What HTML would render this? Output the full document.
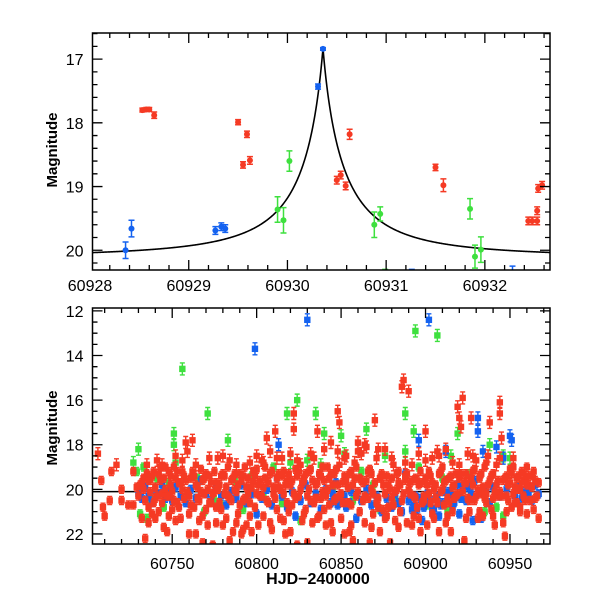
<!DOCTYPE html>
<html><head><meta charset="utf-8"><style>
body{margin:0;background:#fff}
svg{display:block;font-family:"Liberation Sans",sans-serif}
text{font-size:16px;fill:#000}
</style></head><body>
<svg id="chart" width="600" height="600" viewBox="0 0 600 600">
<g id="top"></g>
<g id="bot"></g>
<text x="57" y="150" transform="rotate(-90 57 150)" text-anchor="middle" font-weight="bold" style="font-size:15px">Magnitude</text>
<text x="57" y="428" transform="rotate(-90 57 428)" text-anchor="middle" font-weight="bold" style="font-size:15px">Magnitude</text>
<text x="318" y="584" text-anchor="middle" font-weight="bold">HJD−2400000</text>
</svg>
<script>
// ---- top panel data ----
const topBlue=[[60928.36,20.0,0.13],[60928.42,19.66,0.13],[60929.27,19.69,0.06],[60929.33,19.63,0.06],[60929.37,19.66,0.06],[60930.31,17.43,0.04],[60930.36,16.84,0.02],[60931.26,20.4,0.1],[60932.28,20.35,0.1]];
const topRed=[[60928.53,17.8,0.03],[60928.57,17.79,0.03],[60928.60,17.79,0.03],[60928.65,17.88,0.05],[60929.50,17.99,0.04],[60929.55,18.66,0.05],[60929.59,18.18,0.05],[60929.62,18.59,0.06],[60930.50,18.9,0.06],[60930.54,18.82,0.06],[60930.59,18.99,0.06],[60930.63,18.18,0.08],[60931.50,18.70,0.05],[60931.58,18.98,0.1],[60932.44,19.54,0.06],[60932.48,19.54,0.06],[60932.53,19.54,0.06],[60932.53,19.38,0.06],[60932.54,19.03,0.06],[60932.58,18.98,0.06]];
const topGreen=[[60929.90,19.36,0.2],[60929.96,19.53,0.2],[60930.02,18.6,0.16],[60930.88,19.6,0.2],[60930.94,19.43,0.11],[60931.85,19.35,0.16],[60931.90,20.1,0.18],[60931.96,19.99,0.2],[60930.99,20.4,0.1]];
const topXTicks=[60928,60929,60930,60931,60932];
const topYTicks=[17,18,19,20];
// model curve parameters
const modelBase=20.12, modelT0=60930.36, modelA=0.361, modelC=0.095, modelP=1.7;

// ---- bottom panel data ----
const botRed=[[60706,18.4],[60708,19.6],[60709,20.8],[60710,21.2],[60713,20.5],[60714,19.2],[60717,18.9],[60720,20.0],[60720,20.5],[60724,20.7],[60727,19.2],[60727,20.7],[60729,19.9],[60730,20.3],[60731,19.8],[60732,21.3],[60733,19.5],[60734,22.2],[60735,18.9],[60736,19.6],[60737,20.1],[60738,21.1],[60739,19.2],[60740,20.4],[60741,18.7],[60742,21.0],[60743,19.6],[60744,20.2],[60745,21.7],[60746,19.0],[60747,21.9],[60748,20.3],[60749,19.4],[60750,20.9],[60751,19.0],[60752,18.5],[60753,20.6],[60754,19.7],[60755,21.3],[60756,19.2],[60757,20.4],[60758,17.9],[60759,18.3],[60760,22.0],[60761,19.5],[60762,17.8],[60763,20.8],[60764,22.0],[60765,19.9],[60766,21.4],[60767,19.1],[60768,22.4],[60769,20.2],[60770,19.3],[60771,21.6],[60772,20.6],[60773,19.7],[60774,22.5],[60775,20.1],[60776,21.5],[60777,18.6],[60778,19.8],[60779,20.9],[60780,18.5],[60781,19.4],[60782,21.3],[60783,20.3],[60784,22.3],[60785,19.6],[60786,21.9],[60787,20.0],[60788,18.9],[60789,21.1],[60790,19.3],[60791,22.0],[60792,20.5],[60793,19.0],[60794,21.6],[60795,20.2],[60796,18.8],[60797,21.9],[60798,19.7],[60799,20.8],[60800,19.1],[60801,21.6],[60802,20.3],[60803,18.7],[60804,21.2],[60805,19.5],[60806,17.7],[60807,20.6],[60808,18.3],[60809,21.8],[60810,19.9],[60811,17.4],[60812,20.9],[60813,19.3],[60814,21.3],[60815,18.6],[60816,20.2],[60817,22.0],[60818,19.6],[60819,21.0],[60820,18.4],[60821,20.7],[60822,16.6],[60822,17.3],[60823,19.1],[60824,22.5],[60825,20.3],[60826,18.9],[60827,21.4],[60828,19.6],[60829,20.9],[60830,22.4],[60831,19.2],[60832,20.5],[60833,21.5],[60834,18.6],[60835,19.8],[60836,17.4],[60837,21.2],[60838,19.4],[60839,20.1],[60840,18.2],[60841,21.6],[60842,19.0],[60843,20.7],[60844,17.9],[60845,21.9],[60846,19.3],[60847,20.4],[60848,16.5],[60849,17.0],[60849,18.9],[60850,21.3],[60851,19.7],[60852,22.0],[60853,18.5],[60854,20.6],[60855,21.9],[60856,19.2],[60857,22.3],[60858,18.8],[60859,20.3],[60860,17.9],[60861,21.0],[60862,18.4],[60863,19.7],[60864,21.5],[60865,18.1],[60866,20.4],[60867,22.4],[60868,19.3],[60869,21.1],[60870,16.9],[60871,18.6],[60872,20.8],[60873,21.9],[60874,19.4],[60875,20.9],[60876,18.2],[60877,21.2],[60878,19.8],[60879,22.4],[60880,20.4],[60881,18.9],[60882,21.4],[60883,20.0],[60884,19.2],[60885,21.0],[60886,15.4],[60887,15.1],[60888,19.6],[60889,21.5],[60890,15.6],[60891,20.2],[60892,18.9],[60893,21.2],[60894,19.5],[60895,20.8],[60896,18.4],[60897,21.9],[60898,19.7],[60899,20.3],[60900,17.4],[60901,21.6],[60902,19.2],[60903,20.6],[60904,18.6],[60905,21.3],[60906,19.8],[60907,18.3],[60908,21.9],[60909,20.1],[60910,19.0],[60911,20.7],[60912,18.2],[60913,21.2],[60914,19.5],[60915,21.9],[60916,18.8],[60917,20.4],[60918,19.3],[60919,16.3],[60920,16.8],[60921,17.2],[60922,15.9],[60923,22.3],[60924,19.7],[60925,18.4],[60926,21.0],[60927,16.8],[60928,19.2],[60929,20.5],[60930,18.7],[60931,21.3],[60932,19.5],[60933,20.2],[60934,21.2],[60935,19.0],[60936,20.6],[60937,18.5],[60938,17.0],[60939,20.9],[60940,19.3],[60941,21.6],[60942,18.9],[60943,20.3],[60944,16.1],[60944,16.6],[60945,17.7],[60946,21.5],[60947,22.1],[60948,19.4],[60949,20.5],[60950,19.1],[60951,20.8],[60952,18.6],[60953,19.9],[60954,20.6],[60955,19.4],[60956,21.0],[60957,19.2],[60958,20.3],[60959,19.6],[60960,21.1],[60961,19.8],[60962,20.5],[60963,19.4],[60964,20.9],[60965,19.6],[60966,20.3],[60967,21.3],
[60732,19.7],[60734,20.5],[60736,20.8],[60738,19.4],[60740,19.9],[60742,19.3],[60744,20.6],[60746,20.0],[60748,19.2],[60750,20.1],[60752,19.5],[60754,20.8],[60756,20.0],[60758,19.6],[60760,20.3],[60762,19.2],[60764,19.8],[60766,20.5],[60768,19.6],[60770,20.9],[60772,19.4],[60774,20.2],[60776,19.7],[60778,20.6],[60780,19.3],[60782,19.9],[60784,20.4],[60786,19.5],[60788,20.1],[60790,20.7],[60792,19.4],[60794,19.9],[60796,20.6],[60798,19.2],[60800,20.2],[60802,19.6],[60804,19.9],[60806,20.5],[60808,19.3],[60810,20.2],[60812,19.5],[60814,20.0],[60816,19.2],[60818,20.6],[60820,19.8],[60822,20.2],[60824,19.4],[60826,20.0],[60828,19.5],[60830,20.3],[60832,19.1],[60834,20.6],[60836,19.7],[60838,20.4],[60840,19.6],[60842,20.0],[60844,19.3],[60846,20.5],[60848,19.8],[60850,20.2],[60852,19.4],[60854,19.9],[60856,20.7],[60858,19.5],[60860,20.1],[60862,19.6],[60864,20.3],[60866,19.2],[60868,20.0],[60870,19.7],[60872,20.4],[60874,19.3],[60876,20.2],[60878,20.8],[60880,19.5],[60882,20.1],[60884,19.7],[60886,20.5],[60888,19.4],[60890,20.0],[60892,19.6],[60894,20.4],[60896,19.8],[60898,20.6],[60900,19.5],[60902,20.2],[60904,19.7],[60906,20.4],[60908,19.3],[60910,20.0],[60912,19.6],[60914,20.6],[60916,19.9],[60918,20.3],[60920,19.5],[60922,20.1],[60924,19.3],[60926,20.5],[60928,19.8],[60930,20.3],[60932,19.4],[60934,19.9],[60936,20.2],[60938,19.6],[60940,20.4],[60942,19.8],[60944,20.1],[60946,19.6],[60948,20.3],[60950,19.7],[60952,20.2],[60954,19.5],[60956,20.0],[60958,19.3],[60960,19.8],
[60733,20.0],[60735,19.3],[60737,19.6],[60739,20.6],[60741,20.3],[60743,19.0],[60745,19.5],[60747,20.3],[60749,19.8],[60751,20.5],[60753,19.2],[60755,19.7],[60757,19.4],[60759,20.1],[60761,20.7],[60763,19.4],[60765,20.4],[60767,20.1],[60769,19.5],[60771,20.0],[60773,20.6],[60775,19.2],[60777,20.0],[60779,19.4],[60781,20.2],[60783,19.0],[60785,20.5],[60787,19.3],[60789,19.8],[60791,19.6],[60793,20.4],[60795,19.5],[60797,19.9],[60799,19.4],[60801,19.8],[60803,20.3],[60805,19.0],[60807,19.7],[60809,19.2],[60811,20.4],[60813,19.9],[60815,19.4],[60817,19.8],[60819,19.3],[60821,19.6],[60823,20.4],[60825,19.2],[60827,19.7],[60829,19.3],[60831,20.0],[60833,19.6],[60835,20.4],[60837,19.3],[60839,19.0],[60841,20.3],[60843,19.5],[60845,19.8],[60847,19.1],[60849,20.3],[60851,20.6],[60853,19.6],[60855,19.3],[60857,19.8],[60859,19.0],[60861,19.5],[60863,20.5],[60865,19.6],[60867,19.1],[60869,20.2],[60871,20.6],[60873,19.5],[60875,19.8],[60877,19.4],[60879,20.0],[60881,20.7],[60883,19.3],[60885,19.8],[60887,20.2],[60889,19.3],[60891,19.7],[60893,20.3],[60895,19.6],[60897,19.2],[60899,20.5],[60901,19.8],[60903,19.4],[60905,20.0],[60907,20.6],[60909,19.2],[60911,19.7],[60913,20.4],[60915,19.4],[60917,19.8],[60919,20.2],[60921,19.3],[60923,19.7],[60925,20.4],[60927,19.5],[60929,19.1],[60931,20.0],[60933,19.3],[60935,20.4],[60937,19.8],[60939,19.4],[60941,20.1],[60943,19.6],[60945,20.3],[60947,19.5],[60949,19.8],[60951,19.3],[60953,20.6],[60955,20.0],[60957,19.7],[60959,20.5],[60961,19.4],[60963,19.9],[60965,20.4],[60967,19.7],
[60736,21.5],[60740,21.3],[60744,18.9],[60748,21.2],[60752,21.4],[60756,18.7],[60760,21.1],[60764,18.9],[60768,21.2],[60772,18.6],[60776,20.8],[60780,21.6],[60784,18.7],[60788,21.5],[60792,21.8],[60796,21.2],[60800,18.5],[60804,18.8],[60808,21.5],[60812,18.6],[60816,21.4],[60820,21.9],[60824,18.7],[60828,21.1],[60832,18.4],[60836,21.3],[60840,20.9],[60844,21.5],[60848,18.3],[60852,18.6],[60856,21.6],[60860,18.3],[60864,18.0],[60868,21.7],[60872,18.2],[60876,21.3],[60880,18.6],[60884,21.7],[60888,18.8],[60892,21.6],[60896,21.3],[60900,18.7],[60904,21.1],[60908,18.5],[60912,21.5],[60916,21.0],[60920,18.9],[60924,21.3],[60928,18.5],[60932,21.0],[60936,18.8],[60940,21.2],[60944,18.6],[60948,21.0],[60952,19.0],[60956,20.8],[60960,19.0],[60964,19.2]];
const botBlue=[[60730,20.2],[60732,20.4],[60734,19.9],[60736,20.3],[60738,20.6],[60740,20.0],[60742,20.2],[60744,19.8],[60746,20.4],[60748,20.1],[60750,20.5],[60752,19.9],[60755,20.3],[60758,20.6],[60761,20.0],[60764,20.4],[60767,19.6],[60770,20.2],[60773,20.5],[60776,19.9],[60779,20.3],[60782,20.7],[60785,20.1],[60788,20.4],[60791,19.8],[60794,20.6],[60797,20.2],[60799,13.7],[60800,21.1],[60803,20.4],[60806,20.0],[60809,20.7],[60812,19.5],[60813,18.0],[60815,20.3],[60818,20.8],[60821,20.1],[60823,21.2],[60826,20.5],[60829,19.8],[60830,12.4],[60832,20.6],[60835,20.2],[60838,20.9],[60841,20.0],[60844,20.6],[60847,19.7],[60850,20.4],[60853,20.8],[60856,20.1],[60859,21.3],[60862,20.5],[60865,20.0],[60868,20.7],[60871,20.3],[60874,21.0],[60877,20.4],[60880,20.8],[60882,20.2],[60884,20.6],[60886,21.0],[60888,19.3],[60890,20.5],[60892,20.9],[60894,20.3],[60896,17.8],[60898,21.4],[60900,20.6],[60902,12.4],[60904,20.9],[60906,20.4],[60908,21.2],[60910,20.6],[60912,18.3],[60914,20.1],[60916,20.8],[60918,20.3],[60920,21.1],[60922,19.9],[60924,20.5],[60926,19.8],[60928,21.4],[60929,19.6],[60931,16.8],[60931,17.4],[60933,21.3],[60934,18.3],[60936,20.1],[60938,20.6],[60940,19.9],[60942,18.1],[60944,20.3],[60946,18.6],[60948,20.0],[60950,17.6],[60951,17.8],[60953,20.3],[60955,19.9],[60957,20.4],[60959,20.1],[60961,20.2],[60963,20.5],[60965,19.8],[60967,20.2],
[60845,20.2],[60846,20.5],[60848,20.7],[60852,20.3],[60855,20.6],[60891,20.3],[60893,20.7],[60895,20.9],[60897,20.4],[60899,20.8],[60901,20.2],[60903,20.5],[60905,20.9],[60907,20.3],[60909,20.7],[60911,20.1],[60913,20.5],[60915,20.2],[60917,20.6],[60919,19.8],[60921,20.4],[60925,19.9],[60927,20.2]];
const botGreen=[[60727,18.8],[60729,19.2],[60730,18.2],[60731,21.1],[60733,19.0],[60735,21.3],[60737,20.4],[60741,19.5],[60745,20.8],[60748,19.7],[60751,17.5],[60751,18.0],[60752,18.8],[60756,14.6],[60760,20.2],[60765,19.5],[60769,21.0],[60771,16.6],[60775,20.5],[60779,20.7],[60783,17.8],[60787,19.6],[60792,20.9],[60797,19.4],[60804,20.3],[60810,19.0],[60815,20.6],[60818,16.6],[60820,18.8],[60824,16.0],[60826,21.4],[60830,18.7],[60835,16.6],[60838,18.9],[60840,17.5],[60845,20.0],[60850,17.6],[60852,18.4],[60857,20.5],[60862,19.2],[60865,17.3],[60869,19.8],[60873,20.9],[60876,18.5],[60882,20.4],[60888,16.6],[60888,18.3],[60893,17.4],[60894,12.9],[60896,19.0],[60901,20.7],[60907,13.1],[60910,19.5],[60913,21.0],[60915,18.5],[60919,17.5],[60921,20.4],[60925,19.3],[60935,21.0],[60938,18.0],[60942,20.8],[60946,18.5],[60946,21.2],[60950,18.6]];
const botXTicks=[60750,60800,60850,60900,60950];
const botYTicks=[12,14,16,18,20,22];

const NS='http://www.w3.org/2000/svg';
const RED='#f53a24',BLUE='#1462f0',GREEN='#3ee03e';
function mk(parent,tag,attrs){const e=document.createElementNS(NS,tag);for(const k in attrs)e.setAttribute(k,attrs[k]);parent.appendChild(e);return e;}

function panel(g,L,R,T,B,x0,x1,y0,y1,xt,xminor,yt,yminor,lblY){
  const sx=v=>L+(v-x0)/(x1-x0)*(R-L);
  const sy=v=>T+(v-y0)/(y1-y0)*(B-T);
  const clip='clip'+T;
  const cp=mk(g,'clipPath',{id:clip});mk(cp,'rect',{x:L,y:T,width:R-L,height:B-T});
  const data=mk(g,'g',{'clip-path':'url(#'+clip+')'});
  
  
  const fr=mk(g,'rect',{x:L,y:T,width:R-L,height:B-T,fill:'none',stroke:'#000','stroke-width':1.5});
  
  
  let path='';
  for(let v=Math.ceil(x0/xminor)*xminor;v<=x1;v+=xminor){const x=sx(v);const maj=xt.some(t=>Math.abs(t-v)<1e-6);const l=maj?10:5;path+=`M${x},${B}v${-l}M${x},${T}v${l}`;}
  for(let v=Math.ceil(y0/yminor)*yminor;v<=y1;v+=yminor){const y=sy(v);const maj=yt.some(t=>Math.abs(t-v)<1e-6);const l=maj?10:5;path+=`M${L},${y}h${l}M${R},${y}h${-l}`;}
  const tk=mk(g,'path',{d:path,stroke:'#000','stroke-width':1.3,fill:'none'});
  
  
  xt.forEach(v=>{const t=mk(g,'text',{x:sx(v),y:lblY,'text-anchor':'middle'});t.textContent=v;
    
    });
  yt.forEach(v=>{const t=mk(g,'text',{x:L-9,y:sy(v)+6,'text-anchor':'end'});t.textContent=v;
    
    });
  return {sx,sy,data};
}

// TOP
const tp=panel(document.getElementById('top'),92.5,550,33,270,60928.025,60932.66,16.59,20.31,topXTicks,0.2,topYTicks,0.2,291);
let d='';
for(let i=0;i<=900;i++){const t=60928+i*5/900;const dt=Math.abs(t-modelT0);const F=1+modelA/Math.pow(dt+modelC,modelP);const m=modelBase-2.5*Math.log10(F);d+=(i?'L':'M')+tp.sx(t).toFixed(2)+','+tp.sy(m).toFixed(2);}
const curve=mk(tp.data,'path',{d:d,fill:'none',stroke:'#000','stroke-width':1.6});


function topSeries(arr,col,name){
  const g=mk(tp.data,'g',{});
  
  
  arr.forEach(p=>{const x=tp.sx(p[0]),y=tp.sy(p[1]),e=p[2]*63.7;
    mk(g,'path',{d:`M${x},${y-e}V${y+e}M${x-3},${y-e}h6M${x-3},${y+e}h6`,stroke:col,'stroke-width':1.5,fill:'none'});
    const c=mk(g,'circle',{cx:x,cy:y,r:3,fill:col});
    
    });
}
topSeries(topRed,RED,'red-series');
topSeries(topGreen,GREEN,'green-series');
topSeries(topBlue,BLUE,'blue-series');

// BOTTOM
const bp=panel(document.getElementById('bot'),92.5,550,308,544,60702.8,60973.7,11.87,22.45,botXTicks,10,botYTicks,0.5,569);
const bl=mk(bp.data,'line',{x1:92,x2:550,y1:bp.sy(20.1),y2:bp.sy(20.1),stroke:'#000','stroke-width':1.5});


function botSeries(arr,col,name){
  const g=mk(bp.data,'g',{});
  
  
  arr.forEach(p=>{const x=bp.sx(p[0]),y=bp.sy(p[1]),e=p[1]<19?6:4;
    mk(g,'path',{d:`M${x},${y-e}V${y+e}M${x-2.5},${y-e}h5M${x-2.5},${y+e}h5`,stroke:col,'stroke-width':1.4,fill:'none'});
    const r=mk(g,'rect',{x:x-3.2,y:y-3.2,width:6.4,height:6.4,fill:col});
    
    });
}
botSeries(botGreen,GREEN,'green-series');
botSeries(botBlue,BLUE,'blue-series');
botSeries(botRed,RED,'red-series');
</script>
</body></html>
